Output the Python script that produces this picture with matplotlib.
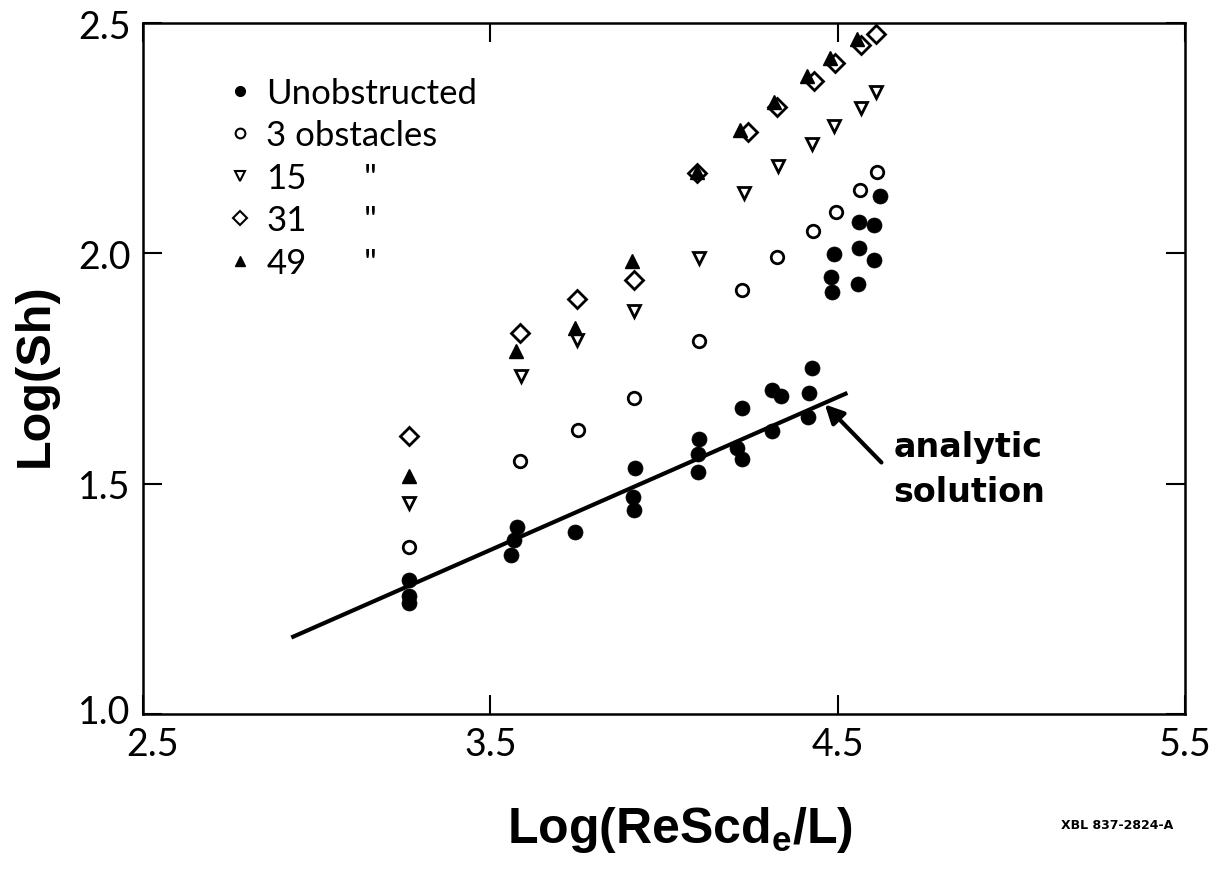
import matplotlib
matplotlib.use("Agg")
import matplotlib.pyplot as plt
import matplotlib.transforms as mtransforms
from matplotlib.lines import Line2D

plt.rcParams['font.family'] = ['Lato', 'DejaVu Sans']
plt.rcParams['mathtext.fontset'] = 'custom'
plt.rcParams['mathtext.bf'] = 'Liberation Sans:bold'
plt.rcParams['mathtext.rm'] = 'Liberation Sans:bold'

# ---------------- data ----------------
unob_x = [3.265, 3.265, 3.265, 3.578, 3.567, 3.560, 3.743, 3.917, 3.910, 3.915,
          4.100, 4.098, 4.099, 4.226, 4.209, 4.226, 4.311, 4.338, 4.310,
          4.427, 4.418, 4.415, 4.489, 4.482, 4.484, 4.561, 4.560, 4.559,
          4.623, 4.604, 4.606]
unob_y = [1.291, 1.256, 1.240, 1.405, 1.377, 1.345, 1.394, 1.533, 1.470, 1.442,
          1.596, 1.564, 1.526, 1.665, 1.578, 1.553, 1.704, 1.690, 1.614,
          1.751, 1.697, 1.645, 1.999, 1.948, 1.916, 2.068, 2.012, 1.934,
          2.124, 2.062, 1.986]

obs3_x = [3.265, 3.585, 3.751, 3.913, 4.102, 4.226, 4.325, 4.430, 4.495, 4.565, 4.614]
obs3_y = [1.363, 1.550, 1.616, 1.686, 1.809, 1.921, 1.992, 2.048, 2.090, 2.137, 2.176]

obs15_x = [3.265, 3.587, 3.750, 3.914, 4.101, 4.230, 4.327, 4.427, 4.489, 4.566, 4.609]
obs15_y = [1.457, 1.733, 1.811, 1.874, 1.990, 2.132, 2.190, 2.237, 2.277, 2.316, 2.351]

obs31_x = [3.265, 3.584, 3.750, 3.914, 4.094, 4.241, 4.326, 4.431, 4.491, 4.566, 4.609]
obs31_y = [1.603, 1.826, 1.901, 1.943, 2.175, 2.264, 2.317, 2.374, 2.413, 2.452, 2.476]

obs49_x = [3.265, 3.575, 3.745, 3.908, 4.094, 4.219, 4.318, 4.412, 4.477, 4.555]
obs49_y = [1.517, 1.788, 1.837, 1.984, 2.176, 2.268, 2.329, 2.386, 2.425, 2.465]

analytic_x = [2.927, 4.528]
analytic_y = [1.166, 1.697]

arrow_tip = (4.463, 1.672)
arrow_tail = (4.626, 1.546)

legend_labels = ["Unobstructed", "3 obstacles", "15", "31", "49"]
xticks = [2.5, 3.5, 4.5, 5.5]
yticks = [1.0, 1.5, 2.0, 2.5]

# ---------------- figure ----------------
W, H = 1223, 879
fig = plt.figure(figsize=(W / 100, H / 100), dpi=100)
ax = fig.add_axes([143 / W, 1 - 715 / H, (1185 - 143) / W, (715 - 24) / H])
ax.set_xlim(2.5, 5.5)
ax.set_ylim(1.0, 2.5)

k = 'black'
ax.plot(analytic_x, analytic_y, color=k, lw=3.0, solid_capstyle='butt', zorder=2)

ax.plot(obs31_x, obs31_y, 'D', ms=9.5, mfc='white', mec=k, mew=2.0, ls='none', zorder=3)
ax.plot(obs49_x, obs49_y, '^', ms=9.5, mfc=k, mec=k, mew=1.0, ls='none', zorder=4)
ax.plot(obs15_x, obs15_y, 'v', ms=9.0, mfc='white', mec=k, mew=2.0, ls='none', zorder=3)
ax.plot(obs3_x, obs3_y, 'o', ms=9.0, mfc='white', mec=k, mew=2.0, ls='none', zorder=3)
ax.plot(unob_x, unob_y, 'o', ms=10.8, mfc=k, mec=k, mew=0.5, ls='none', zorder=4)

ax.annotate('', xy=arrow_tip, xytext=arrow_tail,
            arrowprops=dict(arrowstyle='-|>', color=k, lw=3.0, mutation_scale=28,
                            shrinkA=0, shrinkB=0))
ax.text(4.66, 1.559, 'analytic', fontsize=24, fontweight='bold',
        family='DejaVu Sans', va='baseline', ha='left')
ax.text(4.66, 1.4616, 'solution', fontsize=24, fontweight='bold',
        family='DejaVu Sans', va='baseline', ha='left')

# legend
handles = [
    Line2D([], [], ls='none', marker='o', ms=7, mfc=k, mec=k),
    Line2D([], [], ls='none', marker='o', ms=7, mfc='white', mec=k, mew=1.5),
    Line2D([], [], ls='none', marker='v', ms=7, mfc='white', mec=k, mew=1.5),
    Line2D([], [], ls='none', marker='D', ms=7.5, mfc='white', mec=k, mew=1.5),
    Line2D([], [], ls='none', marker='^', ms=7, mfc=k, mec=k),
]
leg = ax.legend(handles, legend_labels, loc='upper left',
                bbox_to_anchor=((230 - 143) / 1042, (715 - 78) / 691),
                frameon=False, fontsize=25, handlelength=0.6, handletextpad=0.45,
                labelspacing=0.30, borderpad=0, borderaxespad=0)

# ditto marks aligned with legend rows
fig.canvas.draw()
renderer = fig.canvas.get_renderer()
x_ditto = ax.transAxes.transform(((370 - 143) / 1042, 0))[0]
for t in leg.get_texts()[2:]:
    bb = t.get_window_extent(renderer)
    yc = 0.5 * (bb.y0 + bb.y1)
    ax.text(x_ditto, yc, '"', transform=None, fontsize=25, ha='center', va='center')

# axes styling
ax.set_xticks(xticks)
ax.set_yticks(yticks)
ax.set_xticklabels([f"{v:.1f}" for v in xticks])
ax.set_yticklabels([f"{v:.1f}" for v in yticks])
ax.tick_params(direction='in', length=14, width=1.5, top=True, right=True,
               labelsize=27, pad=9)
for s in ax.spines.values():
    s.set_linewidth(1.8)

# offsets for the corner labels
dx = mtransforms.ScaledTranslation(10 / 100, 0, fig.dpi_scale_trans)
ax.get_xticklabels()[0].set_transform(ax.get_xticklabels()[0].get_transform() + dx)
dy = mtransforms.ScaledTranslation(0, 6 / 100, fig.dpi_scale_trans)
ax.get_yticklabels()[0].set_transform(ax.get_yticklabels()[0].get_transform() + dy)

fig.text(35 / W, 1 - 375 / H, 'Log(Sh)', rotation=90, fontsize=35,
         fontweight='bold', family='Liberation Sans', ha='center', va='center')
fig.text(680 / W, 1 - 830 / H, r'Log(ReScd$_{\mathbf{e}}$/L)', fontsize=36,
         fontweight='bold', family='Liberation Sans', ha='center', va='center')
fig.text(1117 / W, 1 - 826 / H, 'XBL 837-2824-A', fontsize=9,
         fontweight='bold', family='DejaVu Sans', ha='center', va='center')

fig.savefig('out.png', dpi=100, facecolor='white')
